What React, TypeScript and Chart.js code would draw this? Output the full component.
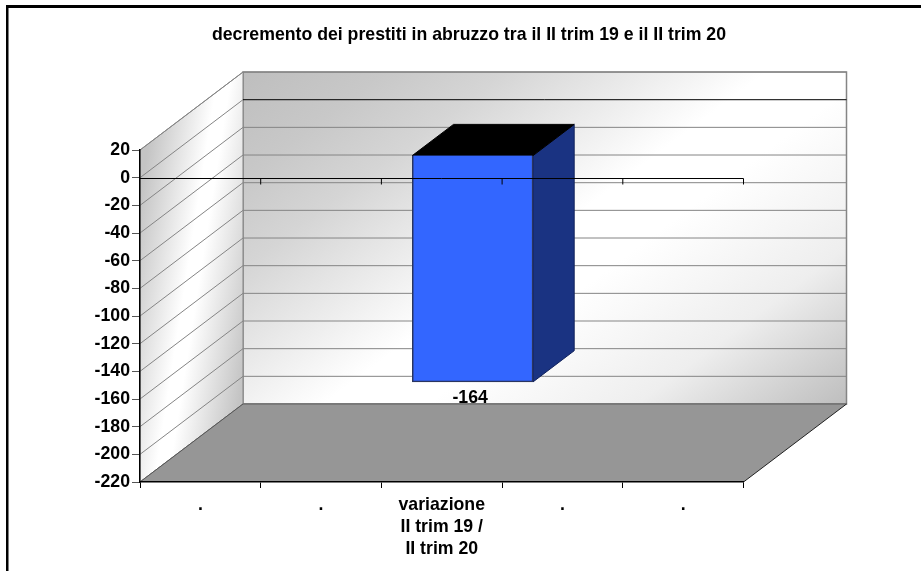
import React, { useEffect, useRef } from "react";
import { Chart, registerables } from "chart.js";

Chart.register(...registerables);

const chartTitle = "decremento dei prestiti in abruzzo tra il II trim 19 e il II trim 20";
const categories: (string | string[])[] = [".", ".", ["variazione", "II trim 19 /", "II trim 20"], ".", "."];
const variazione: (number | null)[] = [null, null, -164, null, null];
const yMin = -220;
const yMax = 20;
const yStep = 20;

const DEPTH_X = 103;
const DEPTH_Y = 78;
const BAR_DX = DEPTH_X * 0.3;
const BAR_DY = DEPTH_Y * 0.29;
const BAR_OX = DEPTH_X * 0.4;
const BAR_OY = DEPTH_Y * 0.4;
const FONT = '"Liberation Sans", Arial, sans-serif';
const FONT_SIZE = 17.7;
const GRID = "#858585";

function poly(ctx: CanvasRenderingContext2D, pts: number[][], fill?: string | CanvasGradient, stroke?: string, lw = 1) {
  ctx.beginPath();
  pts.forEach((p, i) => (i ? ctx.lineTo(p[0], p[1]) : ctx.moveTo(p[0], p[1])));
  ctx.closePath();
  if (fill) {
    ctx.fillStyle = fill;
    ctx.fill();
  }
  if (stroke) {
    ctx.strokeStyle = stroke;
    ctx.lineWidth = lw;
    ctx.stroke();
  }
}

function line(ctx: CanvasRenderingContext2D, x1: number, y1: number, x2: number, y2: number, c: string, lw = 1) {
  ctx.beginPath();
  ctx.moveTo(x1, y1);
  ctx.lineTo(x2, y2);
  ctx.strokeStyle = c;
  ctx.lineWidth = lw;
  ctx.stroke();
}

const walls3d = {
  id: "walls3d",
  beforeDraw(chart: any) {
    const { ctx, chartArea: a, scales } = chart;
    const y = scales.y;
    const L = a.left, R = a.right, T = a.top, B = a.bottom;
    ctx.save();
    ctx.fillStyle = "#fff";
    ctx.fillRect(0, 0, chart.width, chart.height);
    // outer frame: top and left only
    ctx.fillStyle = "#000";
    ctx.fillRect(6, 5, chart.width - 6, 3);
    ctx.fillRect(6, 5, 2.5, chart.height - 5);

    // back wall
    const bx0 = L + DEPTH_X, bx1 = R + DEPTH_X, by0 = T - DEPTH_Y, by1 = B - DEPTH_Y;
    const g = ctx.createLinearGradient(357, -13, 733, 489);
    [
      [0, "#bebebe"],
      [0.135, "#c8c8c8"],
      [0.25, "#d5d5d5"],
      [0.4, "#eeeeee"],
      [0.5, "#ffffff"],
      [0.6, "#ffffff"],
      [0.8, "#eeeeee"],
      [0.94, "#cccccc"],
      [1, "#bebebe"],
    ].forEach(([o, c]) => g.addColorStop(o as number, c as string));
    poly(ctx, [[bx0, by0], [bx1, by0], [bx1, by1], [bx0, by1]], g, GRID, 1.5);

    // left wall
    const g2 = ctx.createLinearGradient(140, 197, 268, 217);
    g2.addColorStop(0, "#c4c4c4");
    g2.addColorStop(0.45, "#ffffff");
    g2.addColorStop(0.55, "#ffffff");
    g2.addColorStop(1, "#c4c4c4");
    poly(ctx, [[L, T], [bx0, by0], [bx0, by1], [L, B]], g2, GRID, 1);

    // gridlines on both walls
    y.ticks.forEach((t: any) => {
      const py = y.getPixelForValue(t.value);
      line(ctx, L, py, L + DEPTH_X, py - DEPTH_Y, GRID, 1);
      line(ctx, bx0, py - DEPTH_Y, bx1, py - DEPTH_Y, t.value === 0 ? "#000" : GRID, 1);
    });

    // floor
    poly(ctx, [[L, B], [bx0, by1], [bx1, by1], [R, B]], "#969696");
    line(ctx, bx0, by1, bx1, by1, "#707070", 1.5);
    line(ctx, L, B, bx0, by1, "#555", 1);
    line(ctx, R, B, bx1, by1, "#222", 1);
    ctx.restore();
  },
  beforeDatasetDraw(chart: any) {
    const { ctx } = chart;
    const el = chart.getDatasetMeta(0).data[2];
    const l = el.x - el.width / 2, r = el.x + el.width / 2;
    const top = Math.min(el.y, el.base), bot = Math.max(el.y, el.base);
    ctx.save();
    ctx.translate(BAR_DX, -BAR_DY);
    poly(ctx, [[r, top], [r + BAR_OX, top - BAR_OY], [r + BAR_OX, bot - BAR_OY], [r, bot]], "#1a3382", "#12235c", 1);
    poly(ctx, [[l, top], [l + BAR_OX, top - BAR_OY], [r + BAR_OX, top - BAR_OY], [r, top]], "#000", "#000", 1);
  },
  afterDatasetDraw(chart: any) {
    chart.ctx.restore();
  },
  afterDatasetsDraw(chart: any) {
    const { ctx, chartArea: a, scales } = chart;
    const x = scales.x, y = scales.y;
    const zero = Math.round(y.getPixelForValue(0)) + 0.5;
    const n = categories.length;
    ctx.save();
    line(ctx, a.left, zero, a.right, zero, "#000", 1);
    for (let i = 1; i <= n; i++) {
      const px = x.left + (x.width * i) / n;
      line(ctx, px, zero, px, zero + 6, "#000", 1);
    }
    const el = chart.getDatasetMeta(0).data[2];
    ctx.fillStyle = "#000";
    ctx.font = `bold ${FONT_SIZE}px ${FONT}`;
    ctx.textAlign = "center";
    ctx.textBaseline = "middle";
    const v = variazione[2];
    ctx.fillText(String(v), el.x + BAR_DX - 2.5, el.y - BAR_DY + 16);
    ctx.restore();
  },
};

export default function App() {
  const ref = useRef<HTMLCanvasElement>(null);
  useEffect(() => {
    const chart = new Chart(ref.current as HTMLCanvasElement, {
      type: "bar",
      data: {
        labels: categories as any,
        datasets: [
          {
            data: variazione,
            backgroundColor: "#3366ff",
            borderColor: "#2a3560",
            borderWidth: 1.5,
            barPercentage: 1,
            categoryPercentage: 1,
            clip: false as any,
          },
        ],
      },
      options: {
        responsive: false,
        animation: false,
        layout: { padding: { left: 17, right: 0, top: 0, bottom: 0 } },
        plugins: {
          legend: { display: false },
          tooltip: { enabled: false },
          title: {
            display: true,
            text: chartTitle,
            color: "#000",
            font: { family: FONT, size: FONT_SIZE, weight: "bold", lineHeight: 1.2 },
            padding: { top: 24, bottom: 104.8 },
          },
        },
        scales: {
          x: {
            grid: { drawOnChartArea: false, color: "#000", tickLength: 6, offset: true },
            border: { color: "#000", width: 1.5 },
            ticks: {
              color: "#000",
              font: { family: FONT, size: FONT_SIZE, weight: "bold", lineHeight: 1.243 },
              maxRotation: 0,
              minRotation: 0,
              autoSkip: false,
              padding: 6,
            },
            afterFit(s: any) {
              s.height = 89;
            },
          },
          y: {
            min: yMin,
            max: yMax,
            grid: { drawOnChartArea: false, color: "#555", tickLength: 8 },
            border: { color: "#000", width: 1.5 },
            ticks: {
              stepSize: yStep,
              color: "#000",
              font: { family: FONT, size: FONT_SIZE, weight: "bold" },
              padding: 2,
              autoSkip: false,
            },
            afterFit(s: any) {
              s.width = 123;
            },
          },
          y1: {
            position: "right",
            min: yMin,
            max: yMax,
            grid: { display: false },
            border: { display: false },
            ticks: { display: false },
            afterFit(s: any) {
              s.width = 177.5;
            },
          },
        },
      },
      plugins: [walls3d],
    } as any);
    return () => chart.destroy();
  }, []);
  return (
    <div style={{ position: "fixed", left: 0, top: 0 }}>
      <canvas ref={ref} width={921} height={571} style={{ display: "block" }} />
    </div>
  );
}
